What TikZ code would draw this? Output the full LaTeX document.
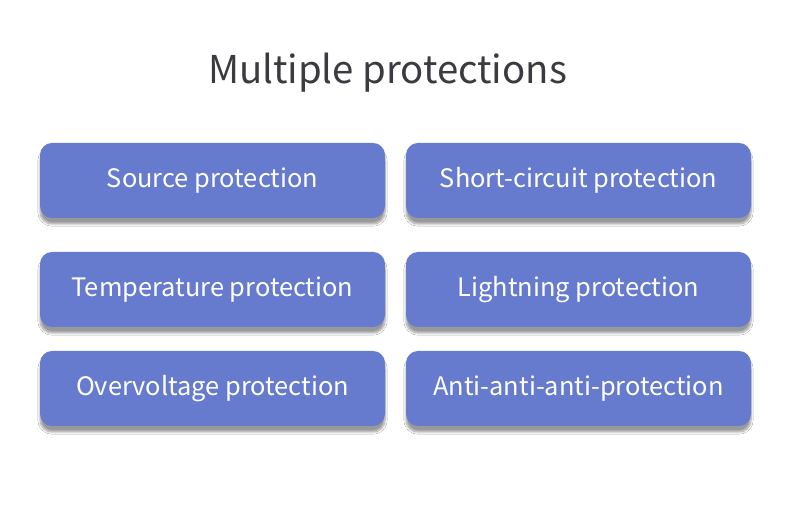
\documentclass[tikz,border=0pt]{standalone}
\usepackage{fontspec}
\setmainfont{Noto Sans CJK SC}
\usepackage{tikz}
\usetikzlibrary{positioning,shadows.blur}

\definecolor{boxblue}{HTML}{667BCE}
\definecolor{titlegray}{HTML}{3A3A40}

\tikzset{
    protbox/.style={rectangle, rounded corners=12pt, fill=boxblue,
        minimum width=345pt, minimum height=75pt, inner sep=0pt,
        text=white, font=\fontsize{25.4}{28}\selectfont,
        blur shadow={shadow xshift=0pt, shadow yshift=-6pt,
            shadow blur steps=8, shadow blur extra rounding=2pt,
            shadow opacity=40}},
}

\begin{document}
\begin{tikzpicture}[x=1pt, y=1pt]
    \useasboundingbox[fill=white] (0,0) rectangle (790,505);

    % Title
    \node[text=titlegray, font=\fontsize{38.3}{42}\selectfont] (title) at (387.5,432) {Multiple protections};

    % Left column
    \node[protbox] (source) at (212.5,324.5) {Source protection};
    \node[protbox] (temp) at (212.5,215.5) {Temperature protection};
    \node[protbox] (over) at (212.5,116.5) {Overvoltage protection};

    % Right column
    \node[protbox] (short) at (578.5,324.5) {Short-circuit protection};
    \node[protbox] (light) at (578.5,215.5) {Lightning protection};
    \node[protbox] (anti) at (578.5,116.5) {Anti-anti-anti-protection};
\end{tikzpicture}
\end{document}
